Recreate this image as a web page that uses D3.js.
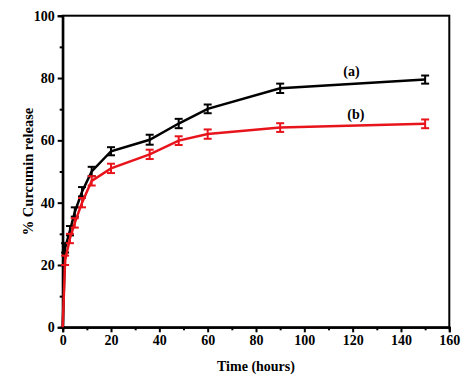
<!DOCTYPE html>
<html><head><meta charset="utf-8">
<script src="https://cdn.jsdelivr.net/npm/d3@7"></script>
<style>body{margin:0;background:#fff}svg{display:block}</style>
</head><body>
<script>
const times = [0, 1, 3, 5, 8, 12, 20, 36, 48, 60, 90, 150];
const seriesA = [0, 25.5, 31, 37, 43.5, 50, 56.5, 60.2, 65.4, 70.1, 76.7, 79.5];
const seriesB = [0, 21.5, 28.5, 33.5, 40, 47, 51, 55.5, 59.9, 62, 64.1, 65.3];
const errA = [0, 1.5, 1.5, 1.5, 1.5, 1.5, 1.3, 1.6, 1.5, 1.4, 1.5, 1.3];
const errB = [0, 1.5, 1.5, 1.5, 1.5, 1.5, 1.5, 1.5, 1.4, 1.5, 1.4, 1.4];
const xTicks = [0, 20, 40, 60, 80, 100, 120, 140, 160];
const yTicks = [0, 20, 40, 60, 80, 100];
const labels = ["(a)", "(b)"];

const W = 474, H = 380;
const m = {l: 62.7, r: 24.7, t: 15.7, b: 52.7};
const svg = d3.select("body").append("svg").attr("width", W).attr("height", H);
const x = d3.scaleLinear().domain([0, 160]).range([m.l, W - m.r]);
const y = d3.scaleLinear().domain([0, 100]).range([H - m.b, m.t]);
const font = "'Liberation Serif', 'Times New Roman', serif";

// frame
svg.append("rect").attr("x", x(0)).attr("y", y(100))
  .attr("width", x(160) - x(0)).attr("height", y(0) - y(100))
  .attr("fill", "none").attr("stroke", "#000").attr("stroke-width", 2);

// x axis
const xMinor = d3.range(10, 160, 20);
const gx = svg.append("g").attr("transform", `translate(0,${y(0)})`);
gx.call(d3.axisBottom(x).tickValues(xTicks).tickSize(5).tickPadding(3));
gx.append("g").call(d3.axisBottom(x).tickValues(xMinor).tickSize(3).tickFormat(""));
// y axis
const yMinor = d3.range(10, 100, 20);
const gy = svg.append("g").attr("transform", `translate(${x(0)},0)`);
gy.call(d3.axisLeft(y).tickValues(yTicks).tickSize(5).tickPadding(3));
gy.append("g").call(d3.axisLeft(y).tickValues(yMinor).tickSize(3).tickFormat(""));
svg.selectAll(".domain").attr("stroke", "#000").attr("stroke-width", 2);
svg.selectAll(".tick line").attr("stroke", "#000").attr("stroke-width", 2);
svg.selectAll(".tick text").attr("font-family", font).attr("font-weight", "bold")
  .attr("font-size", 14).attr("fill", "#000");

// titles
svg.append("text").attr("x", (x(0) + x(160)) / 2).attr("y", 371)
  .attr("text-anchor", "middle").attr("font-family", font).attr("font-weight", "bold")
  .attr("font-size", 14).text("Time (hours)");
svg.append("text").attr("transform", `translate(33,${(y(0) + y(100)) / 2}) rotate(-90)`)
  .attr("text-anchor", "middle").attr("font-family", font).attr("font-weight", "bold")
  .attr("font-size", 14.5).text("% Curcumin release");

function drawSeries(vals, errs, color) {
  const data = times.map((t, i) => ({t, v: vals[i], e: errs[i]}));
  svg.append("path").datum(data)
    .attr("fill", "none").attr("stroke", color).attr("stroke-width", 2.5)
    .attr("d", d3.line().x(d => x(d.t)).y(d => y(d.v)));
  const eb = svg.append("g").selectAll("g").data(data.filter(d => d.e > 0)).join("g");
  eb.append("line").attr("x1", d => x(d.t)).attr("x2", d => x(d.t))
    .attr("y1", d => y(d.v - d.e)).attr("y2", d => y(d.v + d.e))
    .attr("stroke", color).attr("stroke-width", 2);
  [1, -1].forEach(s => {
    eb.append("line").attr("x1", d => x(d.t) - 4).attr("x2", d => x(d.t) + 4)
      .attr("y1", d => y(d.v + s * d.e)).attr("y2", d => y(d.v + s * d.e))
      .attr("stroke", color).attr("stroke-width", 2);
  });
}
drawSeries(seriesA, errA, "#000");
drawSeries(seriesB, errB, "#e8141c");

svg.append("text").attr("x", x(119.5)).attr("y", y(80.8))
  .attr("text-anchor", "middle").attr("font-family", font).attr("font-weight", "bold")
  .attr("font-size", 14).text(labels[0]);
svg.append("text").attr("x", x(121.3)).attr("y", y(66.9))
  .attr("text-anchor", "middle").attr("font-family", font).attr("font-weight", "bold")
  .attr("font-size", 14).text(labels[1]);
</script>
</body></html>
